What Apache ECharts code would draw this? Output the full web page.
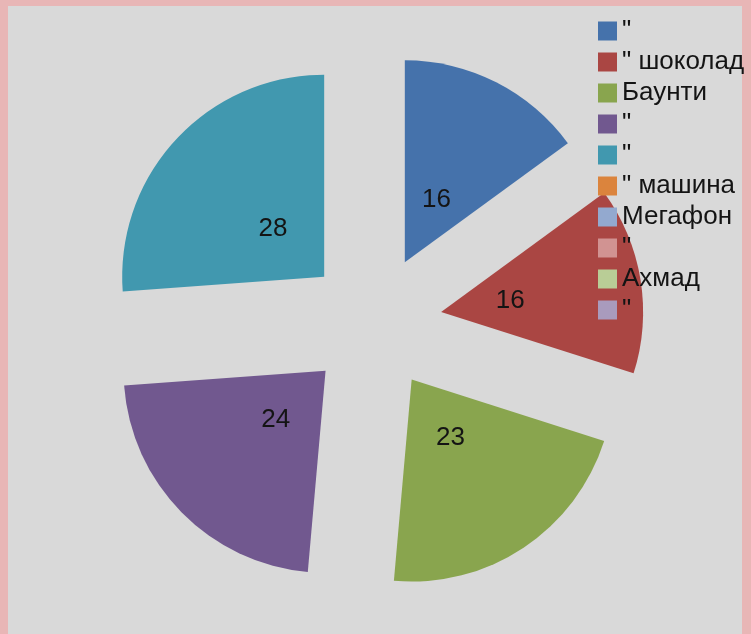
<!DOCTYPE html>
<html>
<head>
<meta charset="utf-8">
<script src="https://cdn.jsdelivr.net/npm/echarts@6/dist/echarts.min.js"></script>
<style>
  html, body { margin: 0; padding: 0; background: #e8b6b6; }
  #frame { position: absolute; left: 8px; top: 6px; width: 734px; height: 628px; background: #d9d9d9; }
  #chart { position: absolute; left: 0; top: 0; width: 751px; height: 634px; }
</style>
</head>
<body>
<div id="frame"></div>
<div id="chart"></div>
<script>
// подписи легенды (как на картинке)
const categories = ['"', '" шоколад', 'Баунти', '"', '"', '" машина', 'Мегафон', '"', 'Ахмад', '"']
// значения; пустые категории = 0
const values = [16, 16, 23, 24, 28, 0, 0, 0, 0, 0]
const colors = ['#4572ab', '#aa4643', '#89a54e', '#71588f', '#4198af', '#db843d', '#93a9cf', '#d19392', '#b9cd96', '#a99bbd']

// уникальные имена, т.к. в легенде несколько одинаковых '"'
const keys = categories.map((c, i) => 'k' + i)

const chart = echarts.init(document.getElementById('chart'))

const pieData = keys.map((k, i) => ({ name: k, value: values[i], selected: true }))

const option = {
  color: colors,
  animation: false,
  legend: {
    orient: 'vertical',
    left: 593,
    top: 13,
    icon: 'rect',
    itemWidth: 19,
    itemHeight: 19,
    itemGap: 5,
    selectedMode: false,
    data: keys,
    formatter: (name) => categories[keys.indexOf(name)],
    textStyle: {
      color: '#141414',
      fontFamily: 'Liberation Sans, Arial, sans-serif',
      fontSize: 26,
      lineHeight: 26,
    },
  },
  series: [
    {
      type: 'pie',
      center: [374, 323],
      radius: 202,
      startAngle: 90,
      selectedMode: 'multiple',
      selectedOffset: 68,
      silent: true,
      label: { show: false },
      labelLine: { show: false },
      emphasis: { disabled: true },
      data: pieData,
    },
    {
      // невидимый ряд только для подписей внутри секторов
      type: 'pie',
      center: [374, 323],
      radius: 134,
      startAngle: 90,
      selectedMode: 'multiple',
      selectedOffset: 68,
      silent: true,
      itemStyle: { color: 'rgba(0,0,0,0)' },
      label: {
        show: true,
        position: 'inside',
        padding: [6, 0, 0, 0],
        formatter: (p) => (p.value ? String(p.value) : ''),
        color: '#141414',
        fontFamily: 'Liberation Sans, Arial, sans-serif',
        fontSize: 26,
      },
      labelLine: { show: false },
      emphasis: { disabled: true },
      data: pieData.map((d) => ({ ...d })),
    },
  ],
}

chart.setOption(option)
</script>
</body>
</html>
